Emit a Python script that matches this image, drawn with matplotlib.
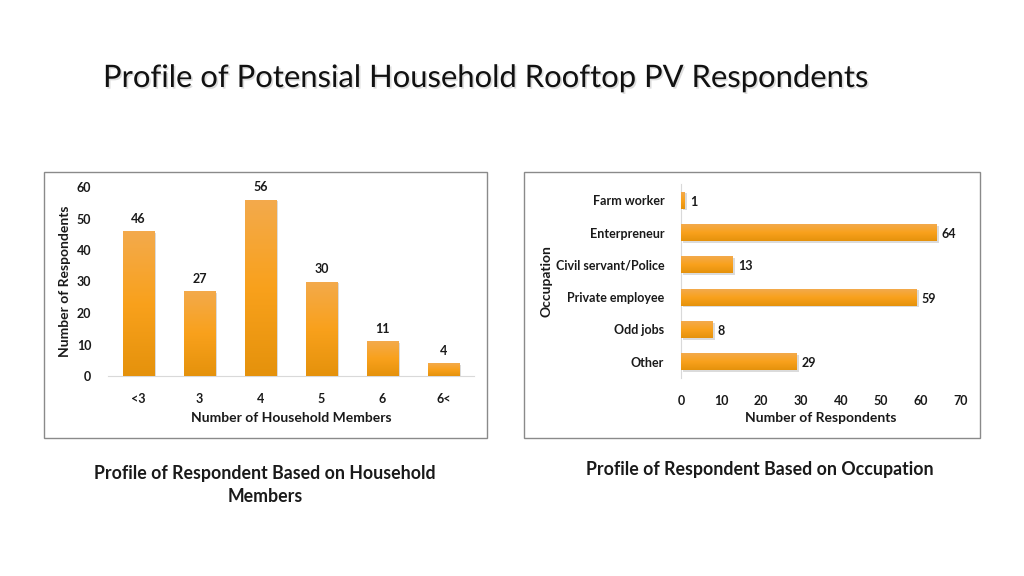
import matplotlib
matplotlib.use("Agg")

import matplotlib.pyplot as plt
import matplotlib.patheffects as path_effects
from matplotlib.patches import Rectangle
from matplotlib.colors import LinearSegmentedColormap
import numpy as np

plt.rcParams['font.family'] = ['Lato', 'DejaVu Sans']

HH_CATS = ['<3', '3', '4', '5', '6', '6<']
HH_VALUES = [46, 27, 56, 30, 11, 4]

OCC_CATS = ['Farm worker', 'Enterpreneur', 'Civil servant/Police',
            'Private employee', 'Odd jobs', 'Other']
OCC_VALUES = [1, 64, 13, 59, 8, 29]

TEXT = '#1a1a1a'
GRAD = LinearSegmentedColormap.from_list('bar', ['#e5920c', '#f9a11c', '#f3aa4c'])


def gradient_bars(ax, bars, flip=False):
    # fill each bar with an orange gradient clipped to its shape
    img = np.linspace(0, 1, 100).reshape(-1, 1)
    if flip:
        img = img[::-1]
    for b in bars:
        x, y = b.get_x(), b.get_y()
        w, h = b.get_width(), b.get_height()
        im = ax.imshow(img, cmap=GRAD, vmin=0, vmax=1, extent=[x, x + w, y, y + h],
                       origin='lower', aspect='auto', zorder=3)
        im.set_clip_path(b)
        b.set_facecolor('none')
        b.set_edgecolor('none')
        b.set_path_effects([path_effects.SimplePatchShadow(offset=(1.2, -1.2), alpha=0.2),
                            path_effects.Normal()])


fig = plt.figure(figsize=(10.24, 5.76), dpi=100)

# panel frames
for x0, x1 in [(44, 487), (524, 980)]:
    fig.patches.append(Rectangle((x0 / 1024, 1 - 438 / 576), (x1 - x0) / 1024, 266 / 576,
                                 transform=fig.transFigure, fill=False,
                                 edgecolor='#8a8a8a', linewidth=1))

title = fig.text(103 / 1024, 1 - 78 / 576, 'Profile of Potensial Household Rooftop PV Respondents',
                 fontsize=22.3, color='#111111', ha='left', va='center')
title.set_path_effects([path_effects.withSimplePatchShadow(offset=(1.2, -1.2),
                                                            shadow_rgbFace='#aaaaaa', alpha=0.4)])

# left chart: household members
ax1 = fig.add_axes([108 / 1024, 1 - 376 / 576, 366 / 1024, 189 / 576])
x = np.arange(len(HH_CATS))
bars = ax1.bar(x, HH_VALUES, width=0.52, zorder=3)
ax1.set_xlim(-0.5, len(HH_CATS) - 0.5)
ax1.set_ylim(0, 60)
gradient_bars(ax1, bars)
for xi, v in zip(x, HH_VALUES):
    ax1.text(xi, v + 2, str(v), ha='center', va='bottom', fontsize=9, fontweight='bold', color=TEXT)
ax1.set_xticks(x)
ax1.set_xticklabels(HH_CATS)
ax1.set_yticks(range(0, 61, 10))
for s in ['top', 'right', 'left']:
    ax1.spines[s].set_visible(False)
ax1.spines['bottom'].set_color('#d9d9d9')
ax1.tick_params(axis='both', length=0, labelsize=9, colors=TEXT)
ax1.tick_params(axis='x', pad=12)
ax1.tick_params(axis='y', pad=12)
for lab in ax1.get_xticklabels() + ax1.get_yticklabels():
    lab.set_fontweight('bold')
ax1.set_xlabel('Number of Household Members', fontsize=10, fontweight='bold', color=TEXT, labelpad=5)
ax1.set_ylabel('Number of Respondents', fontsize=10, fontweight='bold', color=TEXT, labelpad=4)
ax1.set_facecolor('none')

# right chart: occupation
ax2 = fig.add_axes([681 / 1024, 1 - 378 / 576, 280 / 1024, 194 / 576])
y = np.arange(len(OCC_CATS))
bars2 = ax2.barh(y, OCC_VALUES, height=0.52, zorder=3)
gradient_bars(ax2, bars2, flip=True)
ax2.set_xlim(0, 70)
ax2.set_ylim(len(OCC_CATS) - 0.5, -0.5)
for yi, v in zip(y, OCC_VALUES):
    ax2.text(v + 1.2, yi + 0.05, str(v), ha='left', va='center', fontsize=9, fontweight='bold', color=TEXT)
ax2.set_yticks(y)
ax2.set_yticklabels(OCC_CATS)
ax2.set_xticks(range(0, 71, 10))
for s in ['top', 'right', 'bottom']:
    ax2.spines[s].set_visible(False)
ax2.spines['left'].set_color('#d9d9d9')
ax2.tick_params(axis='both', length=0, labelsize=9, colors=TEXT)
ax2.tick_params(axis='x', pad=12)
ax2.tick_params(axis='y', pad=12)
for lab in ax2.get_xticklabels() + ax2.get_yticklabels():
    lab.set_fontweight('bold')
ax2.set_xlabel('Number of Respondents', fontsize=10, fontweight='bold', color=TEXT, labelpad=4)
ax2.set_ylabel('Occupation', fontsize=10, fontweight='bold', color=TEXT, labelpad=2)
ax2.set_facecolor('none')

# captions
fig.text(265 / 1024, 1 - 485 / 576, 'Profile of Respondent Based on Household\nMembers',
         ha='center', va='center', fontsize=12.8, fontweight='bold', color=TEXT, linespacing=1.5)
fig.text(760 / 1024, 1 - 469 / 576, 'Profile of Respondent Based on Occupation',
         ha='center', va='center', fontsize=12.8, fontweight='bold', color=TEXT)

fig.savefig('out.png', dpi=100)
